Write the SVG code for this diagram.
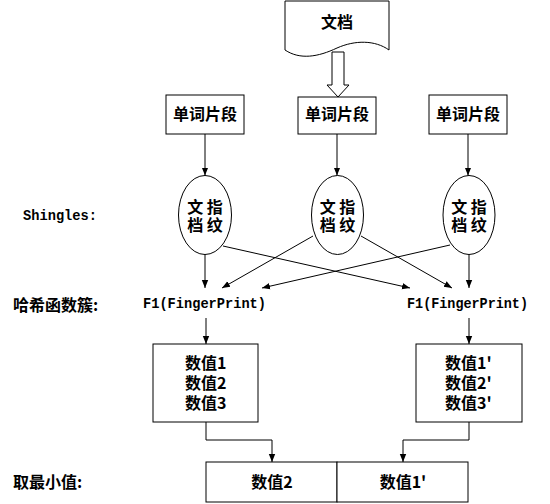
<svg xmlns="http://www.w3.org/2000/svg" width="550" height="504" viewBox="0 0 550 504">
<defs>
<marker id="ah" markerWidth="8" markerHeight="8" refX="8" refY="4" orient="auto" markerUnits="userSpaceOnUse">
<path d="M0,0.8 L8,4 L0,7.2 Z" fill="#000"/>
</marker>
<style>
.shape{fill:#fff;stroke:#000;stroke-width:1}
.cj{font-family:"Noto Sans CJK SC","Noto Sans CJK TC",sans-serif;font-weight:bold;font-size:16px;fill:#000}
.lt{font-family:"Liberation Mono","DejaVu Sans Mono",monospace;font-weight:bold;font-size:15px;fill:#000}
.ln{fill:none;stroke:#000;stroke-width:1}
.arr{fill:none;stroke:#000;stroke-width:1;marker-end:url(#ah)}
</style>
</defs>
<rect width="550" height="504" fill="#fff"/>

<g id="doc">
<path class="shape" d="M285,1 H389 V50 C375,40 355,40 337,48 C318,57 300,60 285,50 Z"/>
<text class="cj" x="337" y="28" text-anchor="middle">文档</text>
</g>
<g id="hollow-arrow">
<polygon class="shape" points="332,52 344,52 344,85 349,85 338,97 327,85 332,85"/>
</g>

<g id="seg1"><rect class="shape" x="166" y="95" width="78" height="39"/><text class="cj" x="205" y="120" text-anchor="middle">单词片段</text></g>
<g id="seg2"><rect class="shape" x="298" y="97" width="78" height="37"/><text class="cj" x="337" y="120" text-anchor="middle">单词片段</text></g>
<g id="seg3"><rect class="shape" x="429" y="95" width="78" height="39"/><text class="cj" x="468" y="120" text-anchor="middle">单词片段</text></g>

<g id="fp1"><ellipse class="shape" cx="205" cy="215" rx="26.5" ry="39.5"/><text class="cj" text-anchor="middle"><tspan x="205" y="213">文 指</tspan><tspan x="205" y="231">档 纹</tspan></text></g>
<g id="fp2"><ellipse class="shape" cx="337.5" cy="215" rx="26" ry="39.5"/><text class="cj" text-anchor="middle"><tspan x="337.5" y="213">文 指</tspan><tspan x="337.5" y="231">档 纹</tspan></text></g>
<g id="fp3"><ellipse class="shape" cx="469" cy="215" rx="26" ry="39.5"/><text class="cj" text-anchor="middle"><tspan x="469" y="213">文 指</tspan><tspan x="469" y="231">档 纹</tspan></text></g>

<g id="labels">
<text class="lt" x="23" y="220" textLength="74" lengthAdjust="spacingAndGlyphs">Shingles:</text>
<text class="cj" x="13" y="311">哈希函数簇:</text>
<text class="cj" x="13" y="488">取最小值:</text>
</g>

<g id="f1-left"><text class="lt" x="143" y="308" textLength="123" lengthAdjust="spacingAndGlyphs">F1(FingerPrint)</text></g>
<g id="f1-right"><text class="lt" x="407" y="308" textLength="121" lengthAdjust="spacingAndGlyphs">F1(FingerPrint)</text></g>

<g id="vals1"><rect class="shape" x="153" y="344" width="105" height="78"/>
<text class="cj" x="185" y="369">数值1</text><text class="cj" x="185" y="389">数值2</text><text class="cj" x="185" y="409">数值3</text></g>
<g id="vals2"><rect class="shape" x="416" y="344" width="106" height="78"/>
<text class="cj" x="445" y="369">数值1'</text><text class="cj" x="445" y="389">数值2'</text><text class="cj" x="445" y="409">数值3'</text></g>

<g id="min1"><rect class="shape" x="206" y="462" width="131" height="40"/><text class="cj" x="272" y="488" text-anchor="middle">数值2</text></g>
<g id="min2"><rect class="shape" x="337" y="462" width="131" height="40"/><text class="cj" x="403" y="488" text-anchor="middle">数值1'</text></g>

<g id="connectors">
<line class="arr" x1="205" y1="134" x2="205" y2="175.5"/>
<line class="arr" x1="337" y1="134" x2="337" y2="175.5"/>
<line class="arr" x1="468" y1="134" x2="468" y2="175.5"/>
<line class="arr" x1="205" y1="254.5" x2="205" y2="288"/>
<line class="arr" x1="469" y1="254.5" x2="469" y2="288"/>
<line class="arr" x1="223" y1="246" x2="410" y2="288"/>
<line class="arr" x1="313" y1="236" x2="222" y2="288"/>
<line class="arr" x1="361" y1="236" x2="452" y2="288"/>
<line class="arr" x1="450" y1="245" x2="262" y2="288"/>
<line class="arr" x1="206" y1="318" x2="206" y2="344"/>
<line class="arr" x1="469" y1="318" x2="469" y2="344"/>
<polyline class="arr" points="206,422 206,440 272,440 272,462"/>
<polyline class="arr" points="469,422 469,440 403,440 403,462"/>
</g>
</svg>
